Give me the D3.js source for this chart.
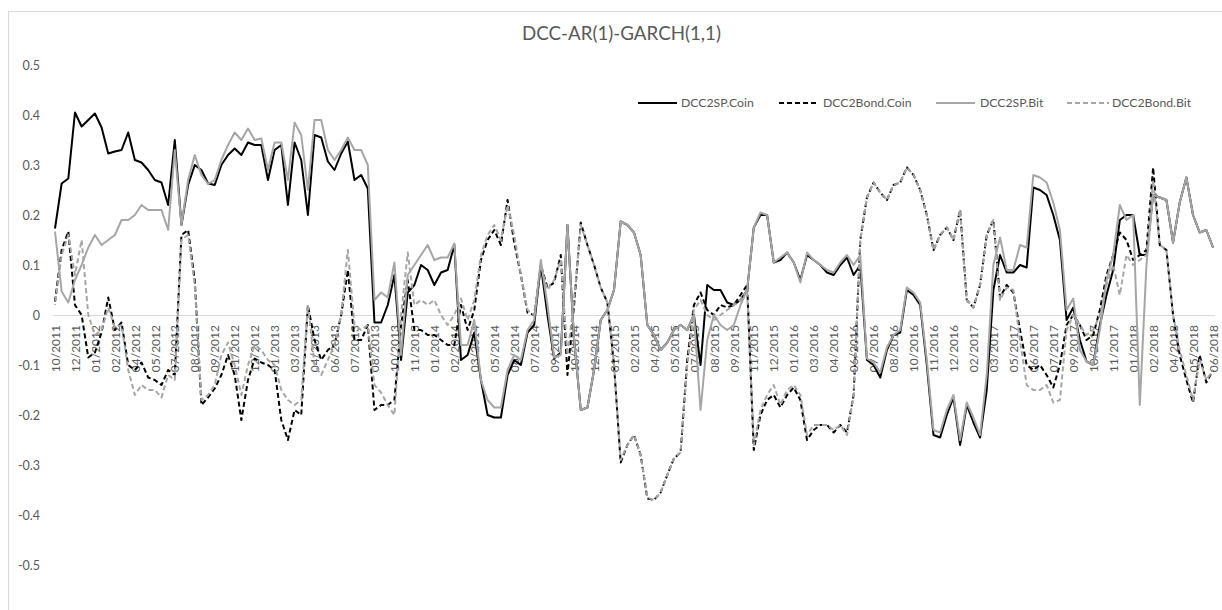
<!DOCTYPE html>
<html><head><meta charset="utf-8">
<script src="https://cdn.jsdelivr.net/npm/d3@7"></script>
<style>
html,body{margin:0;padding:0;background:#fff;}
svg{display:block;font-family:Lato,"Open Sans",sans-serif;}
</style></head><body>
<svg id="chart" width="1222" height="610"></svg>
<script>
const chartTitle = "DCC-AR(1)-GARCH(1,1)";
const seriesNames = ["DCC2SP.Coin","DCC2Bond.Coin","DCC2SP.Bit","DCC2Bond.Bit"];
const tickLabels = ["10/2011","12/2011","01/2012","02/2012","04/2012","05/2012","07/2012","08/2012","09/2012","11/2012","12/2012","01/2013","03/2013","04/2013","06/2013","07/2013","08/2013","10/2013","11/2013","01/2014","02/2014","03/2014","05/2014","06/2014","07/2014","09/2014","10/2014","12/2014","01/2015","02/2015","04/2015","05/2015","07/2015","08/2015","09/2015","11/2015","12/2015","01/2016","03/2016","04/2016","06/2016","07/2016","08/2016","10/2016","11/2016","12/2016","02/2017","03/2017","05/2017","06/2017","07/2017","09/2017","10/2017","11/2017","01/2018","02/2018","04/2018","05/2018","06/2018"];
const yTickValues = [0.5,0.4,0.3,0.2,0.1,0,-0.1,-0.2,-0.3,-0.4,-0.5];

const dcc2spCoin = [
.173,.263,.273,.405,.377,.39,.403,.375,.323,.327,
.33,.365,.31,.305,.29,.27,.265,.22,.35,.18,
.26,.3,.29,.263,.26,.3,.32,.333,.32,.345,
.34,.34,.27,.33,.34,.22,.345,.31,.2,.36,
.355,.307,.29,.323,.347,.27,.28,.253,-.015,-.015,
.02,.08,-.09,.045,.06,.1,.09,.06,.085,.09,
.14,-.09,-.08,-.035,-.13,-.2,-.205,-.205,-.12,-.09,
-.1,-.035,-.02,.1,0,-.087,-.075,.18,-.05,-.19,
-.185,-.11,-.01,.01,.05,.187,.18,.165,.12,-.02,
-.04,-.07,-.055,-.03,-.02,-.03,0,-.1,.06,.05,
.05,.025,.02,.03,.05,.175,.2,.2,.105,.11,
.125,.105,.07,.12,.11,.1,.085,.08,.1,.115,
.08,.1,-.09,-.1,-.125,-.07,-.04,-.035,.05,.04,
.02,-.1,-.24,-.245,-.2,-.165,-.26,-.18,-.215,-.245,
-.15,.05,.12,.085,.085,.1,.095,.255,.25,.24,
.2,.15,-.01,.015,-.05,-.093,-.1,-.02,.04,.09,
.19,.2,.2,.12,.12,.24,.235,.23,.145,.225,
.275,.2,.165,.17,.135];

const dcc2bondCoin = [
.027,.13,.167,.02,0,-.085,-.075,-.035,.035,-.03,
-.015,-.1,-.11,-.095,-.125,-.13,-.14,-.11,-.12,.16,
.17,.07,-.18,-.165,-.147,-.12,-.08,-.12,-.21,-.13,
-.087,-.095,-.1,-.11,-.21,-.25,-.19,-.2,.02,-.05,
-.09,-.07,-.06,0,.09,-.05,-.05,-.02,-.19,-.18,
-.18,-.17,-.02,.07,-.03,-.03,-.04,-.04,-.05,-.06,
-.06,.02,-.03,.01,.11,.15,.17,.14,.23,.145,
.08,.005,0,.1,.055,.065,.12,-.12,.02,.185,
.14,.1,.055,.025,-.1,-.295,-.26,-.24,-.28,-.367,
-.37,-.355,-.32,-.287,-.275,-.09,.02,.045,.01,0,
.02,.015,.02,.04,.06,-.27,-.2,-.17,-.16,-.185,
-.16,-.145,-.17,-.25,-.23,-.22,-.22,-.235,-.22,-.235,
-.16,.15,.235,.265,.245,.23,.26,.265,.295,.28,
.25,.2,.13,.16,.175,.15,.21,.03,.015,.06,
.16,.19,.035,.06,.045,-.03,-.1,-.11,-.1,-.12,
-.145,-.1,-.02,0,-.02,-.05,-.04,.01,.08,.12,
.165,.15,.11,.12,.13,.295,.14,.13,0,-.08,
-.13,-.175,-.08,-.135,-.11];

const dcc2spBit = [
.167,.047,.025,.07,.1,.135,.16,.14,.15,.16,
.19,.19,.2,.22,.21,.21,.21,.17,.33,.18,
.27,.32,.28,.262,.27,.31,.34,.365,.35,.373,
.35,.353,.29,.345,.345,.27,.385,.36,.25,.39,
.39,.33,.31,.33,.355,.33,.33,.3,.03,.045,
.035,.105,-.08,.08,.1,.12,.14,.11,.115,.115,
.143,-.06,-.06,-.01,-.13,-.17,-.185,-.185,-.11,-.08,
-.09,-.03,-.01,.11,.02,-.085,-.08,.18,-.05,-.19,
-.185,-.11,-.01,.01,.05,.187,.18,.165,.12,-.02,
-.04,-.07,-.055,-.03,-.02,-.03,0,-.19,-.05,0,
-.02,-.03,-.02,.02,.05,.175,.205,.2,.105,.115,
.125,.105,.065,.125,.11,.1,.09,.085,.105,.12,
.1,.12,-.087,-.095,-.115,-.065,-.04,-.03,.055,.045,
.025,-.09,-.23,-.235,-.19,-.16,-.25,-.175,-.205,-.24,
-.12,.1,.155,.09,.09,.14,.135,.28,.275,.265,
.225,.17,.01,.033,-.07,-.093,-.1,-.03,.07,.12,
.22,.19,.2,-.18,.1,.24,.235,.23,.145,.225,
.275,.2,.165,.17,.135];

const dcc2bondBit = [
.02,.12,.16,.08,.15,0,-.04,-.03,.015,-.025,
-.02,-.11,-.16,-.14,-.15,-.15,-.165,-.12,-.13,.15,
.16,.06,-.17,-.16,-.14,-.08,-.055,-.1,-.16,-.1,
-.06,-.07,-.09,-.1,-.15,-.17,-.18,-.17,.02,-.1,
-.12,-.09,-.06,0,.13,-.02,-.03,-.02,-.14,-.155,
-.18,-.2,0,.125,.02,.03,.02,.03,0,-.02,
0,.033,-.01,.03,.12,.16,.18,.15,.22,.16,
.08,.01,0,.1,.05,.07,.11,-.08,.03,.18,
.14,.1,.055,.025,-.1,-.29,-.26,-.24,-.28,-.365,
-.37,-.355,-.32,-.287,-.275,-.1,.01,.03,0,-.01,
0,.01,.02,.03,.05,-.26,-.19,-.16,-.14,-.18,
-.15,-.14,-.16,-.24,-.22,-.22,-.22,-.23,-.22,-.24,
-.16,.15,.235,.265,.245,.23,.26,.265,.295,.28,
.25,.2,.13,.16,.175,.15,.21,.03,.015,.06,
.16,.19,.03,.055,.05,-.05,-.14,-.15,-.15,-.14,
-.175,-.17,-.03,0,-.02,-.04,-.03,0,.06,.1,
.04,.12,.1,.11,.12,.27,.14,.13,0,-.07,
-.12,-.17,-.09,-.13,-.11];

const labelStep = 3;
const seriesData = [dcc2spCoin, dcc2bondCoin, dcc2spBit, dcc2bondBit];
const seriesStyle = [
  {color:"#000000", dash:null, offset:0},
  {color:"#000000", dash:"5,3", offset:0},
  {color:"#a6a6a6", dash:null, offset:0},
  {color:"#a6a6a6", dash:"5,3", offset:4}
];

const svg = d3.select("#chart");
const textColor = "#595959";

// chart area border
svg.append("rect").attr("x",8.5).attr("y",11.5).attr("width",1240).attr("height",640)
  .attr("fill","none").attr("stroke","#d9d9d9").attr("stroke-width",1);

const n = dcc2spCoin.length;
const x = d3.scaleLinear().domain([0, n-1]).range([55, 1213]);
const y = d3.scaleLinear().domain([-0.5, 0.5]).range([565, 65]);

// y axis
const yAxis = d3.axisLeft(y).tickValues(yTickValues).tickSize(0).tickPadding(0)
  .tickFormat(d => d === 0 ? "0" : d3.format(".1f")(d).replace("−","-"));
const gy = svg.append("g").attr("transform","translate(40,0)").call(yAxis);
gy.select(".domain").remove();
gy.selectAll("text").attr("fill",textColor).attr("font-size",12.5)
  .attr("font-family","Lato,'Open Sans',sans-serif");

// zero line (category axis)
svg.append("line").attr("x1",53).attr("x2",1215).attr("y1",y(0)+0.5).attr("y2",y(0)+0.5)
  .attr("stroke","#d9d9d9").attr("stroke-width",1);

// x axis labels
const tickIdx = tickLabels.map((d,i)=>i*labelStep);
const xAxis = d3.axisBottom(x).tickValues(tickIdx).tickSize(0)
  .tickFormat((d,i)=>tickLabels[i]);
const gx = svg.append("g").attr("transform",`translate(0,${y(0)})`).call(xAxis);
gx.select(".domain").remove();
gx.selectAll("text")
  .attr("fill",textColor).attr("font-size",12)
  .attr("font-family","Lato,'Open Sans',sans-serif")
  .attr("text-anchor","end")
  .attr("transform","translate(0,10) rotate(-90)")
  .attr("x",0).attr("y",0).attr("dy","0.35em");

// lines
const line = d3.line().x((d,i)=>x(i)).y(d=>y(d));
seriesData.forEach((data, k) => {
  const st = seriesStyle[k];
  const p = svg.append("path").datum(data).attr("d", line)
    .attr("fill","none").attr("stroke",st.color).attr("stroke-width",2)
    .attr("stroke-linejoin","round");
  if (st.dash) p.attr("stroke-dasharray", st.dash).attr("stroke-dashoffset", st.offset);
});

// title
const t = svg.append("text").text(chartTitle).attr("x",621.5).attr("y",40)
  .attr("text-anchor","middle").attr("font-size",17).attr("fill",textColor);
const tw = t.node().getComputedTextLength();
t.attr("font-size", 17*199/tw);

// legend
const legendPos = [
  {x0:638, x1:677, tx:681},
  {x0:779, x1:819, tx:823},
  {x0:936, x1:975, tx:980},
  {x0:1067, x1:1109, tx:1112}
];
const legendY = 103;
const probe = svg.append("text").text(seriesNames[1]).attr("font-size",12);
const lfs = 12*88.5/probe.node().getComputedTextLength();
probe.remove();
seriesNames.forEach((name,k) => {
  const st = seriesStyle[k], pos = legendPos[k];
  const l = svg.append("line").attr("x1",pos.x0).attr("x2",pos.x1)
    .attr("y1",legendY).attr("y2",legendY)
    .attr("stroke",st.color).attr("stroke-width",2);
  if (st.dash) l.attr("stroke-dasharray", st.dash);
  svg.append("text").text(name).attr("x",pos.tx).attr("y",legendY).attr("dy","0.35em")
    .attr("font-size",lfs).attr("fill",textColor);
});
</script>
</body></html>
